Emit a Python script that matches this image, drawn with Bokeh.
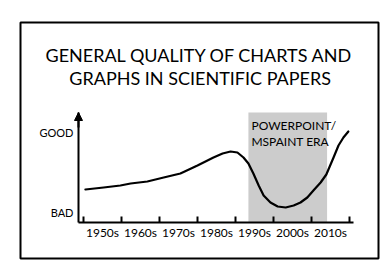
from bokeh.plotting import figure
from bokeh.models import (FixedTicker, Label, BoxAnnotation, Arrow, NormalHead, Range1d,
                          LinearAxis)
from bokeh.embed import file_html
from bokeh.resources import INLINE

# ---- data ----
title_lines = ["GENERAL QUALITY OF CHARTS AND", "GRAPHS IN SCIENTIFIC PAPERS"]
decade_bounds = [1950, 1960, 1970, 1980, 1990, 2000, 2010, 2020]
decade_labels = ["1950s", "1960s", "1970s", "1980s", "1990s", "2000s", "2010s"]
y_ticks = [1, 9]
y_labels = ["BAD", "GOOD"]
years = [1950.5, 1955.3, 1959.7, 1962.4, 1966.8, 1971.1, 1975.5, 1980.0, 1984.2,
         1986.6, 1988.7, 1990.5, 1992.1, 1993.4, 1994.7, 1996.1, 1997.4, 1999.2,
         2001.1, 2003.2, 2005.3, 2007.1, 2008.9, 2010.5, 2012.4, 2013.9, 2015.8,
         2017.1, 2018.4, 2019.7]
quality = [3.3, 3.5, 3.7, 3.9, 4.1, 4.5, 4.9, 5.7, 6.5,
           6.9, 7.1, 7.0, 6.5, 5.9, 4.9, 3.7, 2.7, 2.0,
           1.6, 1.5, 1.7, 2.0, 2.5, 3.2, 4.0, 4.8, 6.5,
           7.7, 8.5, 9.1]
era_start, era_end = 1993.4, 2014.1
era_text = ["POWERPOINT/", "MSPAINT ERA"]

FONT = "Lato"
AX_X0, AX_X1 = 1948.68, 2021.05   # axis extent
AX_Y0, AX_Y1 = 0, 11
X0, X1 = 1933.42, 2027.63        # panel extent
Y0, Y1 = -3.6, 20.0

p = figure(width=389, height=271, output_backend="svg", toolbar_location=None,
           x_range=Range1d(X0, X1), y_range=Range1d(Y0, Y1),
           x_axis_type=None, y_axis_type=None,
           min_border_left=20, min_border_right=11, min_border_top=22,
           min_border_bottom=13)
p.outline_line_color = "black"
p.outline_line_width = 2
p.grid.visible = False
p.background_fill_color = "white"
p.border_fill_color = "white"

# era shading
p.add_layout(BoxAnnotation(left=era_start, right=era_end, bottom=AX_Y0, top=AX_Y1,
                           fill_color="#cccccc", fill_alpha=1.0, line_color=None,
                           level="underlay"))

p.line(years, quality, line_color="black", line_width=2.2,
       line_join="round", line_cap="round")

# x axis
mids = [(a + b) / 2 for a, b in zip(decade_bounds[:-1], decade_bounds[1:])]
xa = LinearAxis(fixed_location=AX_Y0, bounds=(AX_X0, AX_X1))
xa.ticker = FixedTicker(ticks=mids, minor_ticks=decade_bounds)
xa.major_label_overrides = {m: l for m, l in zip(mids, decade_labels)}
xa.major_tick_in = 0
xa.major_tick_out = 0
xa.minor_tick_in = 6
xa.minor_tick_out = 0
xa.minor_tick_line_color = "black"
xa.minor_tick_line_width = 2
xa.axis_line_width = 2
xa.axis_line_color = "black"
xa.major_label_standoff = 2
xa.major_label_text_font = FONT
xa.major_label_text_font_size = "12px"
xa.major_label_text_color = "black"
p.add_layout(xa, "below")

# y axis
ya = LinearAxis(fixed_location=AX_X0, bounds=(AX_Y0, AX_Y1))
ya.ticker = FixedTicker(ticks=y_ticks, minor_ticks=[])
ya.major_label_overrides = {t: l for t, l in zip(y_ticks, y_labels)}
ya.major_tick_in = 0
ya.major_tick_out = 0
ya.minor_tick_in = 0
ya.minor_tick_out = 0
ya.axis_line_width = 2
ya.axis_line_color = "black"
ya.major_label_standoff = 5
ya.major_label_text_font = FONT
ya.major_label_text_font_size = "11px"
ya.major_label_text_color = "black"
ya.major_label_orientation = "horizontal"
p.add_layout(ya, "left")

# arrow head on y axis
p.add_layout(Arrow(x_start=AX_X0, y_start=9.5, x_end=AX_X0, y_end=AX_Y1,
                   line_width=2, line_color="black",
                   end=NormalHead(size=8, fill_color="black", line_color="black")))

# era text
p.add_layout(Label(x=1994.2, y=9.7, text=era_text[0], text_font=FONT,
                   text_font_size="12px", text_baseline="middle", text_color="black"))
p.add_layout(Label(x=1994.2, y=8.1, text=era_text[1], text_font=FONT,
                   text_font_size="12px", text_baseline="middle", text_color="black"))

# title
p.add_layout(Label(x=1980.5, y=16.8, text=title_lines[0], text_font=FONT,
                   text_font_size="18px", text_align="center", text_baseline="middle",
                   text_color="black"))
p.add_layout(Label(x=1980.7, y=14.5, text=title_lines[1], text_font=FONT,
                   text_font_size="18px", text_align="center", text_baseline="middle",
                   text_color="black"))

open("out.html", "w").write(file_html(p, INLINE))
